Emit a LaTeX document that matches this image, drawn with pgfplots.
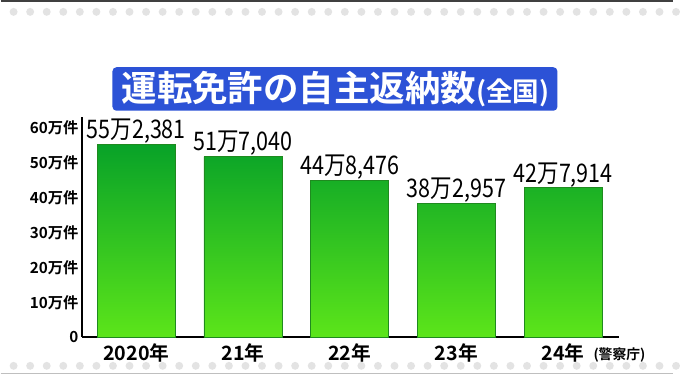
\documentclass[border=0pt]{standalone}
\usepackage{fontspec}
\setmainfont{Noto Sans CJK JP}[BoldFont={Noto Sans CJK JP Bold}]
\newfontfamily\numfont{Noto Sans CJK JP}[FakeStretch=0.84]
\usepackage{pgfplots}
\pgfplotsset{compat=1.18}
\definecolor{barTop}{HTML}{08A228}
\definecolor{barBot}{HTML}{5CE51A}
\definecolor{barEdge}{HTML}{1F8A1F}
\definecolor{titleBlue}{HTML}{2C52D6}
\definecolor{dotGray}{HTML}{E3E3E3}
\begin{document}
\begin{tikzpicture}[x=1bp,y=1bp]
\fill[white] (0,0) rectangle (680,382);
\draw[black!75,line width=1.5bp] (0,381.2) -- (680,381.2);
\foreach \i in {0,...,40} {
  \fill[dotGray] (13+16.75*\i,370) circle (4bp);
  \fill[dotGray] (13+16.75*\i,12) circle (4bp);
}
\draw[gray!50,line width=1.2bp] (0,4) -- (680,4);
\fill[titleBlue,rounded corners=4bp] (113,270) rectangle (563,314);
\node[anchor=west,text=white,inner sep=0pt] at (122,291.5)
  {\bfseries\fontsize{36}{36}\selectfont 運転免許の自主返納数\fontsize{27}{27}\selectfont(全国)};
\begin{axis}[
  at={(82bp,41bp)}, anchor=south west,
  scale only axis, width=543bp, height=223bp,
  xmin=-0.51, xmax=4.52, ymin=0, ymax=631200,
  axis lines*=left,
  axis line style={black,line width=2bp},
  xtick={0,1,2,3,4},
  xticklabels={2020年,21年,22年,23年,24年},
  ytick={0,100000,200000,300000,400000,500000,600000},
  yticklabels={0,10万件,20万件,30万件,40万件,50万件,60万件},
  major tick length=0pt,
  x tick label style={font=\bfseries\fontsize{20}{20}\selectfont, yshift=-3bp},
  y tick label style={font=\bfseries\fontsize{15.5}{15.5}\selectfont},
  scaled y ticks=false,
  point meta=explicit symbolic,
  nodes near coords,
  every node near coord/.append style={font=\numfont\fontsize{26}{26}\selectfont, anchor=south, yshift=-3bp, text=black},
  clip=false,
]
\addplot[ybar, bar width=79bp, bar shift=0pt, draw=barEdge, line width=0.8bp,
  top color=barTop, bottom color=barBot]
  coordinates {
  (0,552381) [55万2,381]
  (1,517040) [51万7,040]
  (2,448476) [44万8,476]
  (3,382957) [38万2,957]
  (4,427914) [42万7,914]
  };
\end{axis}
\node[anchor=west] at (596,23) {\bfseries\fontsize{14}{14}\selectfont(警察庁)};
\end{tikzpicture}
\end{document}
